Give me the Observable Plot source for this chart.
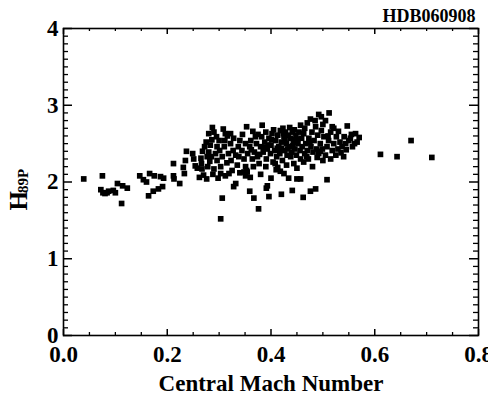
<!DOCTYPE html>
<html>
<head>
<meta charset="utf-8">
<script src="https://cdn.jsdelivr.net/npm/d3@7"></script>
<script src="https://cdn.jsdelivr.net/npm/@observablehq/plot@0.6"></script>
<style>
  html, body { margin: 0; padding: 0; background: #fff; }
</style>
</head>
<body>
<div id="chart"></div>
<script>
// Central Mach number (x) and H89P (y) for each shot
const machNumber = [
  0.039, 0.075, 0.072, 0.076, 0.080, 0.084, 0.087, 0.096, 0.104, 0.100,
  0.112, 0.114, 0.123, 0.147, 0.154, 0.160, 0.166, 0.175, 0.164, 0.173,
  0.187, 0.193, 0.183, 0.191, 0.212, 0.212, 0.213, 0.224, 0.231, 0.235,
  0.237, 0.233, 0.249, 0.251, 0.254, 0.258, 0.262,
  0.611, 0.643, 0.670, 0.710,
  0.303, 0.306, 0.328, 0.332, 0.376, 0.367, 0.359, 0.396, 0.391, 0.393,
  0.420, 0.441, 0.462, 0.476, 0.486, 0.508, 0.450, 0.457, 0.434, 0.425,
  0.418, 0.413, 0.408, 0.400, 0.351, 0.353, 0.348, 0.303, 0.312, 0.319,
  0.540,
  0.287, 0.290, 0.280, 0.308, 0.312, 0.322, 0.353, 0.383, 0.436, 0.457,
  0.476, 0.492, 0.497, 0.512, 0.505, 0.521, 0.547, 0.563, 0.570, 0.561,
  0.550,
  0.266, 0.267, 0.270, 0.272, 0.277, 0.278, 0.280, 0.276, 0.265, 0.282,
  0.285, 0.290, 0.293, 0.296, 0.296, 0.300, 0.295, 0.301, 0.303, 0.306,
  0.310, 0.311, 0.316, 0.318, 0.322, 0.323, 0.327, 0.328, 0.332, 0.335,
  0.337, 0.340, 0.344, 0.348, 0.351, 0.351, 0.354, 0.355, 0.359, 0.361,
  0.364, 0.366, 0.368, 0.370, 0.372, 0.374, 0.377, 0.380, 0.382, 0.385,
  0.388, 0.390, 0.391, 0.393, 0.396, 0.399, 0.400, 0.402, 0.404, 0.407,
  0.409, 0.411, 0.413, 0.415, 0.417, 0.418, 0.420, 0.422, 0.425, 0.426,
  0.428, 0.430, 0.431, 0.433, 0.435, 0.437, 0.440, 0.441, 0.443, 0.444,
  0.446, 0.448, 0.449, 0.452, 0.454, 0.456, 0.457, 0.459, 0.460, 0.463,
  0.465, 0.467, 0.470, 0.473, 0.477, 0.479, 0.481, 0.483, 0.486, 0.488,
  0.490, 0.492, 0.495, 0.497, 0.499, 0.502, 0.505, 0.508, 0.511, 0.515,
  0.518, 0.521, 0.526, 0.529, 0.533, 0.537, 0.541, 0.544, 0.553, 0.557,
  0.566,
  0.340, 0.360, 0.380, 0.390, 0.410, 0.430, 0.450, 0.463, 0.472, 0.480,
  0.500, 0.489, 0.345, 0.365, 0.375, 0.405, 0.423, 0.445, 0.465, 0.470,
  0.485, 0.500, 0.518, 0.530, 0.535, 0.545, 0.525, 0.515, 0.555, 0.286,
  0.283, 0.275, 0.268, 0.288, 0.298, 0.315, 0.325, 0.338, 0.362, 0.378,
  0.395, 0.412, 0.427, 0.438, 0.451, 0.469, 0.475, 0.495, 0.510, 0.420,
  0.432, 0.442, 0.424, 0.447, 0.401, 0.386
];
const h89p = [
  2.04, 2.08, 1.90, 1.86, 1.85, 1.86, 1.88, 1.89, 1.98, 1.86,
  1.72, 1.95, 1.92, 2.08, 2.03, 2.00, 2.11, 2.08, 1.82, 1.88,
  2.07, 2.05, 1.91, 1.94, 2.24, 2.08, 2.04, 1.98, 2.19, 2.28,
  2.40, 2.11, 2.37, 2.30, 2.21, 2.18, 2.06,
  2.36, 2.33, 2.54, 2.32,
  1.52, 1.79, 1.94, 1.98, 1.65, 1.79, 1.88, 1.81, 1.92, 1.95,
  1.84, 1.89, 1.80, 1.88, 1.91, 2.03, 2.04, 2.04, 2.05, 2.11,
  2.14, 2.19, 2.24, 2.05, 2.08, 2.15, 2.13, 2.11, 2.08, 2.11,
  2.33,
  2.71, 2.65, 2.63, 2.69, 2.63, 2.63, 2.72, 2.74, 2.71, 2.74,
  2.82, 2.88, 2.85, 2.90, 2.80, 2.70, 2.73, 2.63, 2.58, 2.50,
  2.54,
  2.24, 2.17, 2.09, 2.46, 2.33, 2.20, 2.39, 2.04, 2.31, 2.27,
  2.33, 2.17, 2.37, 2.28, 2.46, 2.54, 2.59, 2.41, 2.20, 2.33,
  2.46, 2.54, 2.60, 2.37, 2.50, 2.28, 2.41, 2.57, 2.35, 2.22,
  2.46, 2.54, 2.41, 2.30, 2.50, 2.20, 2.13, 2.37, 2.46, 2.54,
  2.30, 2.20, 2.39, 2.59, 2.50, 2.33, 2.24, 2.46, 2.59, 2.39,
  2.52, 2.65, 2.30, 2.43, 2.57, 2.37, 2.48, 2.63, 2.26, 2.41,
  2.54, 2.33, 2.61, 2.46, 2.37, 2.67, 2.52, 2.28, 2.59, 2.41,
  2.65, 2.50, 2.35, 2.61, 2.46, 2.57, 2.39, 2.65, 2.52, 2.24,
  2.43, 2.61, 2.35, 2.50, 2.65, 2.41, 2.30, 2.57, 2.46, 2.63,
  2.37, 2.50, 2.41, 2.57, 2.46, 2.65, 2.39, 2.54, 2.72, 2.43,
  2.61, 2.37, 2.50, 2.67, 2.43, 2.59, 2.35, 2.46, 2.54, 2.65,
  2.41, 2.50, 2.59, 2.43, 2.52, 2.46, 2.59, 2.50, 2.57, 2.46,
  2.52,
  2.12, 2.06, 2.10, 2.20, 2.16, 2.22, 2.18, 2.26, 2.30, 2.20,
  2.28, 2.32, 2.62, 2.66, 2.62, 2.68, 2.70, 2.68, 2.70, 2.77,
  2.80, 2.75, 2.72, 2.66, 2.38, 2.42, 2.35, 2.30, 2.62, 2.55,
  2.48, 2.52, 2.40, 2.10, 2.05, 2.25, 2.15, 2.33, 2.42, 2.36,
  2.48, 2.44, 2.55, 2.33, 2.56, 2.33, 2.52, 2.40, 2.60, 2.44,
  2.43, 2.47, 2.63, 2.55, 2.55, 2.45
];

const xMajorTicks = [0, 0.2, 0.4, 0.6, 0.8];
const yMajorTicks = [0, 1, 2, 3, 4];
const xMinorTicks = [0.05, 0.1, 0.15, 0.25, 0.3, 0.35, 0.45, 0.5, 0.55, 0.65, 0.7, 0.75];
const yMinorTicks = [0.1,0.2,0.3,0.4,0.5,0.6,0.7,0.8,0.9,
                     1.1,1.2,1.3,1.4,1.5,1.6,1.7,1.8,1.9,
                     2.1,2.2,2.3,2.4,2.5,2.6,2.7,2.8,2.9,
                     3.1,3.2,3.3,3.4,3.5,3.6,3.7,3.8,3.9];

const xLabel = "Central Mach Number";
const yLabelMain = "H";
const yLabelSub = "89P";
const cornerLabel = "HDB060908";

const points = machNumber.map((m, i) => ({m, h: h89p[i]}));

const W = 488, H = 396;
const mL = 63, mR = 10, mT = 28, mB = 61;
const fw = W - mL - mR, fh = H - mT - mB;
const font = "'Liberation Serif', 'Times New Roman', serif";

const chart = Plot.plot({
  width: W,
  height: H,
  marginLeft: mL,
  marginRight: mR,
  marginTop: mT,
  marginBottom: mB,
  style: {fontFamily: font, fontWeight: "bold", fontSize: "22px", background: "#fff", color: "#000", overflow: "visible"},
  x: {domain: [0, 0.8]},
  y: {domain: [0, 4]},
  marks: [
    Plot.dot(points, {x: "m", y: "h", symbol: "square", r: 3.2, fill: "black", stroke: "none"}),
    // inward minor / major ticks on all four sides
    Plot.tickX(xMinorTicks, {x: d => d, insetTop: fh - 3, stroke: "black", strokeWidth: 1.3}),
    Plot.tickX(xMinorTicks, {x: d => d, insetBottom: fh - 3, stroke: "black", strokeWidth: 1.3}),
    Plot.tickX(xMajorTicks, {x: d => d, insetTop: fh - 6, stroke: "black", strokeWidth: 1.5}),
    Plot.tickX(xMajorTicks, {x: d => d, insetBottom: fh - 6, stroke: "black", strokeWidth: 1.5}),
    Plot.tickY(yMinorTicks, {y: d => d, insetRight: fw - 5, stroke: "black", strokeWidth: 1.3}),
    Plot.tickY(yMinorTicks, {y: d => d, insetLeft: fw - 5, stroke: "black", strokeWidth: 1.3}),
    Plot.tickY(yMajorTicks, {y: d => d, insetRight: fw - 9, stroke: "black", strokeWidth: 1.5}),
    Plot.tickY(yMajorTicks, {y: d => d, insetLeft: fw - 9, stroke: "black", strokeWidth: 1.5}),
    Plot.frame({stroke: "black", strokeWidth: 1.6}),
    Plot.axisX(xMajorTicks, {anchor: "bottom", tickSize: 0, tickPadding: 10, tickFormat: d => d.toFixed(1), fontSize: 23, fontWeight: "bold", fill: "black", label: null}),
    Plot.axisY(yMajorTicks, {anchor: "left", tickSize: 0, tickPadding: 5, tickFormat: d => String(d), fontSize: 23, fontWeight: "bold", fill: "black", label: null}),
    Plot.text([xLabel], {frameAnchor: "bottom", dy: 48, text: d => d, fontSize: 23, fontWeight: "bold", fill: "black", lineAnchor: "middle"}),
    Plot.text([yLabelMain], {frameAnchor: "left", rotate: -90, dx: -44.5, dy: 28.5, text: d => d, fontSize: 25, fontWeight: "bold", fill: "black"}),
    Plot.text([yLabelSub], {frameAnchor: "left", rotate: -90, dx: -40, dy: 11, text: d => d, fontSize: 15, fontWeight: "bold", fill: "black"}),
    Plot.text([cornerLabel], {frameAnchor: "top-right", dx: -3, dy: -12, text: d => d, fontSize: 18, fontWeight: "bold", fill: "black", textAnchor: "end", lineAnchor: "middle"})
  ]
});
document.getElementById("chart").appendChild(chart);
</script>
</body>
</html>
